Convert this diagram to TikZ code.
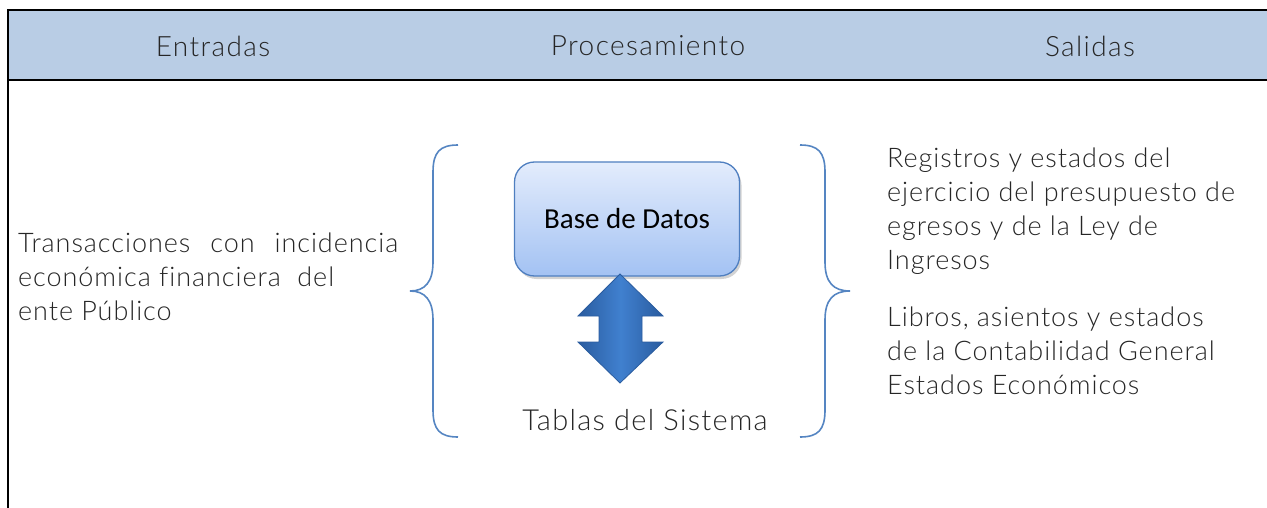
\documentclass[tikz,border=0pt]{standalone}
\usepackage{fontspec}
\IfFontExistsTF{Lato Light}{\def\lightname{Lato Light}}{\def\lightname{Lato}}
\setmainfont{\lightname}
\newfontfamily\bodyfont[LetterSpace=3.5,Ligatures=NoCommon]{\lightname}
\newfontfamily\headfont[LetterSpace=5,Ligatures=NoCommon]{\lightname}
\newfontfamily\tabfont[LetterSpace=4.5,Ligatures=NoCommon]{\lightname}
\newfontfamily\calibrifont{Carlito}
\usetikzlibrary{shadows}
\definecolor{hdr}{HTML}{B9CDE5}
\definecolor{brace}{HTML}{5585C2}
\definecolor{boxtop}{HTML}{E3ECFC}
\definecolor{boxbot}{HTML}{A3C2F3}
\definecolor{boxline}{HTML}{4F7FC0}
\definecolor{arrfill}{HTML}{4080CF}
\definecolor{arrdark}{HTML}{2A5C9F}
\definecolor{txt}{HTML}{262626}
\tikzset{
  hdrtext/.style={font=\headfont\fontsize{28}{30}\selectfont, text=txt, inner sep=0pt},
  bodytext/.style={font=\bodyfont\fontsize{27}{34}\selectfont, text=txt, align=left, inner sep=0pt, anchor=west},
  brc/.style={draw=brace, line width=1.6pt},
  dbbox/.style={draw=boxline, line width=1.3pt, rounded corners=20pt, top color=boxtop, bottom color=boxbot,
    minimum width=225pt, minimum height=114pt, font=\calibrifont\fontsize{29}{32}\selectfont,
    drop shadow={shadow xshift=2pt, shadow yshift=-3pt, opacity=0.35}},
  dblarrow/.style={draw=arrdark, line width=0.8pt, left color=arrdark, right color=arrdark, middle color=arrfill}
}
\begin{document}
\begin{tikzpicture}[x=1pt,y=-1pt]
\useasboundingbox (0,0) rectangle (1267,508);
% header band
\fill[hdr] (8,10) rectangle (1268,80);
\draw[line width=2.6pt] (1268,10) -- (8,10) -- (8,509);
\draw[line width=2.6pt] (8,80) -- (1268,80);
\node[hdrtext] (hin) at (213,46) {Entradas};
\node[hdrtext] (hproc) at (648,46) {Procesamiento};
\node[hdrtext] (hout) at (1090,46) {Salidas};
% left text
\node[bodytext] (inp) at (18,277) {\hbox to 380pt{Transacciones\hfill con\hfill incidencia}\\econ\'omica financiera\ \ del\\ente P\'ublico};
% braces
\draw[brc] (458,145) .. controls (440,145) and (433,152) .. (433,172) -- (433,262)
  .. controls (433,282) and (425,291) .. (410,291)
  .. controls (425,291) and (433,300) .. (433,320) -- (433,410)
  .. controls (433,430) and (440,437) .. (458,437);
\draw[brc] (800,145) .. controls (818,145) and (825,152) .. (825,172) -- (825,262)
  .. controls (825,282) and (833,291) .. (850,291)
  .. controls (833,291) and (825,300) .. (825,320) -- (825,410)
  .. controls (825,430) and (818,437) .. (800,437);
% database box
\node[dbbox] (db) at (627,219) {Base de Datos};
% double arrow
\draw[dblarrow] (620,274) -- (663,316) -- (642,316) -- (642,342) -- (663,342) -- (620,383)
  -- (578,342) -- (599,342) -- (599,316) -- (578,316) -- cycle;
\node[font=\tabfont\fontsize{29}{32}\selectfont, text=txt, inner sep=0pt] (tab) at (645,420) {Tablas del Sistema};
% right text
\node[bodytext] (out1) at (887,211) {Registros y estados del\\ejercicio del presupuesto de\\egresos y de la Ley de\\Ingresos};
\node[bodytext] (out2) at (887,351) {Libros, asientos y estados\\de la Contabilidad General\\Estados Econ\'omicos};
\end{tikzpicture}
\end{document}
